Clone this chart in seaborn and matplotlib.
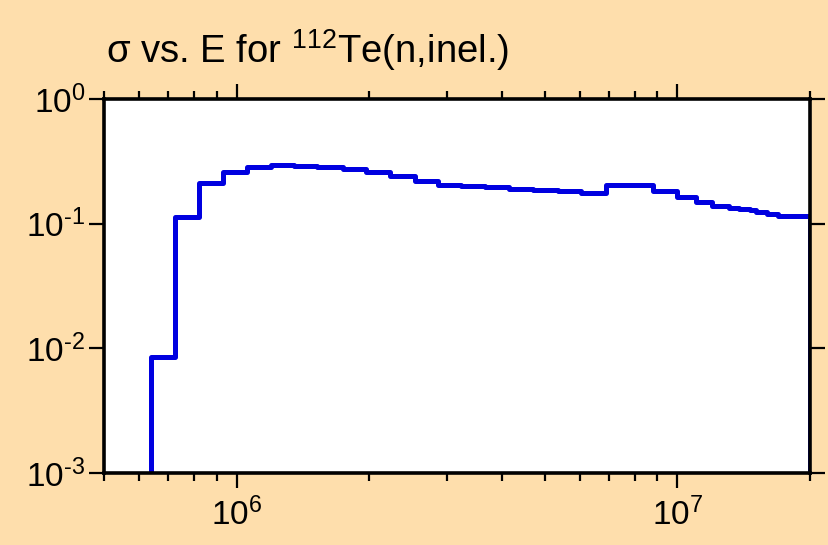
import numpy as np
import pandas as pd
import matplotlib
matplotlib.use("Agg")
import matplotlib.pyplot as plt
from matplotlib.ticker import LogLocator, FuncFormatter, NullFormatter
import seaborn as sns

# ---- data ----
bin_edges_eV = [6.39e5, 7.25e5, 8.22e5, 9.32e5, 1.053e6, 1.196e6, 1.35e6, 1.518e6,
                1.744e6, 1.97e6, 2.226e6, 2.536e6, 2.863e6, 3.236e6, 3.66e6, 4.16e6,
                4.70e6, 5.35e6, 6.05e6, 6.90e6, 7.79e6, 8.80e6, 1.0e7, 1.1e7, 1.2e7,
                1.31e7, 1.38e7, 1.46e7, 1.51e7, 1.60e7, 1.69e7, 2.0e7]
sigma_b = [0.0086, 0.114, 0.211, 0.261, 0.283, 0.294, 0.292, 0.286, 0.275, 0.260,
           0.240, 0.220, 0.203, 0.199, 0.196, 0.191, 0.187, 0.182, 0.176, 0.204,
           0.205, 0.184, 0.165, 0.149, 0.139, 0.134, 0.130, 0.128, 0.124, 0.120, 0.116]
floor_value = 1e-5   # cross section outside the tabulated range (below axis)
x_limits = (5e5, 2e7)
y_limits = (1e-3, 1.0)
title_text = "σ vs. E for $^{112}$Te(n,inel.)"

# ---- build step outline ----
xs = [bin_edges_eV[0]] + list(bin_edges_eV) + [bin_edges_eV[-1]]
ys = [floor_value] + list(sigma_b) + [sigma_b[-1], floor_value]
df = pd.DataFrame({"E": xs, "sigma": ys, "order": np.arange(len(xs))})

# ---- styling ----
bg = "#FEDEAC"
sns.set_theme(style="white")
font = "Liberation Sans"
plt.rcParams["font.family"] = [font, "DejaVu Sans"]
plt.rcParams["mathtext.fontset"] = "custom"
plt.rcParams["mathtext.rm"] = font
plt.rcParams["mathtext.it"] = font
plt.rcParams["mathtext.bf"] = font
plt.rcParams["mathtext.default"] = "regular"
plt.rcParams["axes.unicode_minus"] = False

fig = plt.figure(figsize=(8.29, 5.45), dpi=100, facecolor=bg)
ax = fig.add_axes([0.1255, 0.1321, 0.977 - 0.1255, 0.8183 - 0.1321])
ax.set_facecolor("white")

sns.lineplot(data=df, x="E", y="sigma", sort=False, estimator=None,
             drawstyle="steps-post", color="#0000E0", linewidth=3.6, ax=ax,
             clip_on=True)

ax.set_xscale("log")
ax.set_yscale("log")
ax.set_xlim(*x_limits)
ax.set_ylim(*y_limits)
ax.set_xlabel("")
ax.set_ylabel("")

for s in ax.spines.values():
    s.set_linewidth(2.6)
    s.set_color("black")


def fmt_func(v, p):
    e = int(round(np.log10(v)))
    return "10$^{\\text{%d}}$" % e


fmt = FuncFormatter(fmt_func)
ax.xaxis.set_major_locator(LogLocator(base=10, numticks=10))
ax.xaxis.set_minor_locator(LogLocator(base=10, subs=np.arange(2, 10), numticks=20))
ax.xaxis.set_major_formatter(fmt)
ax.xaxis.set_minor_formatter(NullFormatter())
ax.yaxis.set_major_locator(LogLocator(base=10, numticks=10))
ax.yaxis.set_minor_locator(LogLocator(base=10, subs=[], numticks=10))
ax.yaxis.set_major_formatter(fmt)
ax.yaxis.set_minor_formatter(NullFormatter())

ax.tick_params(axis="both", which="major", direction="out", length=10.5, width=1.6,
               color="black", labelsize=24, labelcolor="black",
               top=True, right=True, bottom=True, left=True)
ax.tick_params(axis="x", which="minor", direction="out", length=5.5, width=1.6,
               color="black", top=True, bottom=True)
ax.tick_params(axis="y", which="minor", length=0)
ax.tick_params(axis="x", which="major", pad=7)
ax.tick_params(axis="y", which="major", pad=3)

fig.text(0.128, 0.908, title_text, fontsize=27.5, color="black", ha="left", va="center")

fig.savefig("out.png", dpi=100, facecolor=bg)
